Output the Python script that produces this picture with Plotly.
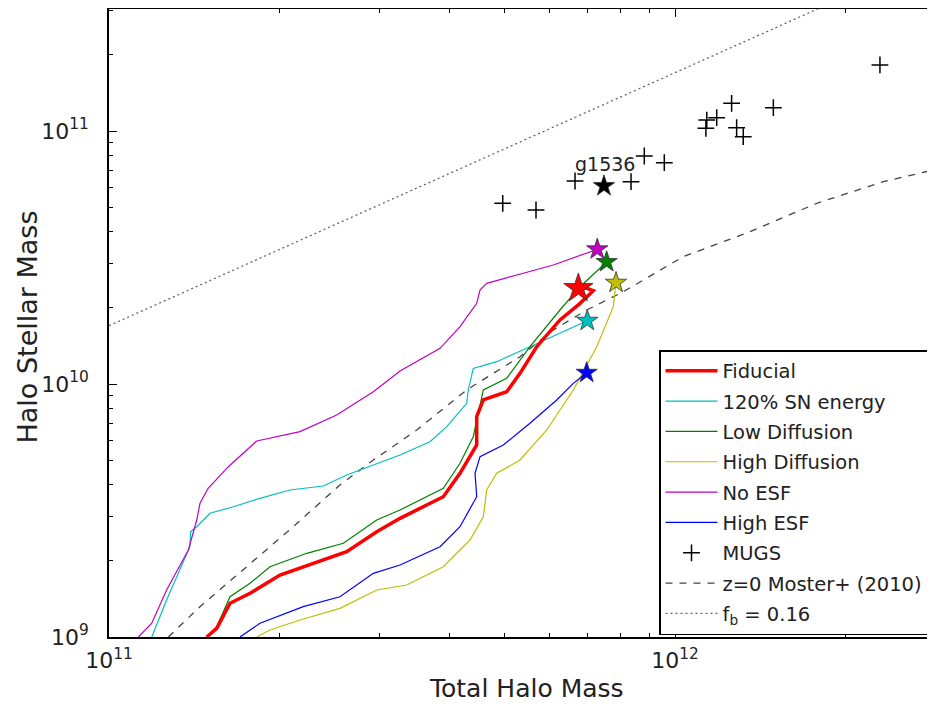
import plotly.graph_objects as go
import numpy as np

# units: halo mass in 1e11 Msun, stellar mass in 1e9 Msun
XU = 1e11
YU = 1e9

fid_x = [1.488,1.550,1.636,1.775,2.005,2.296,2.630,2.972,3.267,3.896,4.170,4.463,4.463,4.585,5.043,5.323,5.697,6.263,6.796,7.171,6.982,6.749]
fid_y = [1.0,1.082,1.359,1.488,1.758,1.956,2.174,2.608,2.945,3.585,4.436,5.741,7.428,8.648,9.32,11.02,14.04,17.91,20.84,23.38,23.89,23.89]

sn_x = [1.190,1.264,1.390,1.394,1.429,1.508,1.658,1.848,2.088,2.391,2.630,2.972,3.267,3.691,3.951,4.285,4.313,4.401,4.842,5.543,6.263,6.887,6.998]
sn_y = [1.0,1.400,2.275,2.608,2.729,3.083,3.273,3.533,3.811,3.953,4.369,4.860,5.242,5.915,6.781,8.391,9.47,11.53,12.25,14.04,15.86,17.38,17.79]

lowd_x = [1.488,1.550,1.636,1.775,1.925,2.236,2.594,2.972,3.267,3.896,4.170,4.401,4.585,5.043,5.543,6.263,6.796,7.573]
lowd_y = [1.0,1.098,1.443,1.631,1.896,2.142,2.346,2.901,3.177,3.871,4.860,6.19,9.47,10.53,14.04,19.61,24.24,30.36]

highd_x = [1.824,1.925,2.175,2.559,2.972,3.357,3.896,4.343,4.585,4.648,4.842,5.323,5.934,6.612,7.273,7.780,7.867]
highd_y = [1.0,1.066,1.167,1.298,1.534,1.605,1.896,2.417,2.989,3.811,4.436,5.008,6.58,9.47,14.04,20.21,25.14]

noesf_x = [1.127,1.190,1.264,1.381,1.429,1.448,1.497,1.625,1.824,1.978,2.175,2.525,2.931,3.267,3.845,4.170,4.463,4.524,4.648,5.395,6.095,7.171,7.289]
noesf_y = [1.0,1.133,1.534,2.207,2.90,3.377,3.871,4.711,5.953,6.19,6.48,7.54,9.32,11.25,13.84,16.85,20.84,23.52,25.00,27.39,29.54,33.64,34.07]

hiesf_x = [1.704,1.848,2.204,2.559,2.931,3.267,3.845,4.170,4.463,4.433,4.524,4.973,5.543,6.180,6.612,6.982]
hiesf_y = [1.0,1.133,1.318,1.443,1.785,1.926,2.275,2.729,3.585,4.436,5.160,5.741,6.993,8.648,10.06,11.08]

moster_x = [1.273,1.448,1.751,2.116,2.559,2.931,3.267,3.497,4.285,5.323,6.095,6.982,8.103,10.34,13.57,17.80,23.34,28.60]
moster_y = [1.0,1.318,1.896,2.729,3.989,5.008,5.915,6.58,9.47,12.82,16.35,19.61,23.16,31.86,39.99,51.79,63.04,70.13]

fb_x = [1.0, 30.0]
fb_y = [17.0, 510.0]

mugs_x = [4.962,5.681,6.658,8.362,8.826,9.574,11.38,11.34,11.85,12.59,12.85,13.20,14.92,23.02]
mugs_y = [51.79,48.72,63.45,63.04,79.65,74.93,110.5,102.5,112.9,128.7,103.0,94.96,123.6,182.4]

g1536_x = [7.49]
g1536_y = [60.6]
g1536_label = "g1536"

names = ["Fiducial", "120% SN energy", "Low Diffusion", "High Diffusion", "No ESF", "High ESF"]
colors = ["#ff0000", "#00bfbf", "#008000", "#bfbf00", "#bf00bf", "#0000ff"]
series_x = [fid_x, sn_x, lowd_x, highd_x, noesf_x, hiesf_x]
series_y = [fid_y, sn_y, lowd_y, highd_y, noesf_y, hiesf_y]
widths = [3.5, 1.2, 1.2, 1.2, 1.2, 1.2]

star_x = [6.749, 6.998, 7.573, 7.867, 7.289, 6.982]
star_y = [23.89, 17.79, 30.36, 25.14, 34.07, 11.08]
star_sizes = [22, 16, 16, 16, 16, 16]

FONT = "DejaVu Sans"
TXT = "#222222"
fig = go.Figure()

# reference lines
fig.add_trace(go.Scatter(x=np.array(fb_x) * XU, y=np.array(fb_y) * YU, mode="lines",
                         line=dict(color="#666666", width=1.3, dash="2px,3px"),
                         name="f<sub>b</sub> = 0.16", legendrank=9, legendgroup="g9"))
fig.add_trace(go.Scatter(x=np.array(moster_x) * XU, y=np.array(moster_y) * YU, mode="lines",
                         line=dict(color="#444444", width=1.3, dash="7px,7px"),
                         name="z=0 Moster+ (2010)", legendrank=8, legendgroup="g8"))

order = [1, 2, 3, 4, 5, 0]
for i in order:
    fig.add_trace(go.Scatter(x=np.array(series_x[i]) * XU, y=np.array(series_y[i]) * YU,
                             mode="lines", line=dict(color=colors[i], width=widths[i]),
                             name=names[i], legendrank=i + 1, legendgroup="g%d" % i))

for i in order:
    fig.add_trace(go.Scatter(x=[star_x[i] * XU], y=[star_y[i] * YU], mode="markers",
                             marker=dict(symbol="star", size=star_sizes[i], color=colors[i],
                                         line=dict(color="#333333", width=0.8)),
                             showlegend=False))

fig.add_trace(go.Scatter(x=np.array(mugs_x) * XU, y=np.array(mugs_y) * YU, mode="markers",
                         marker=dict(symbol="cross-thin", size=12, line=dict(color="black", width=1.5)),
                         name="MUGS", legendrank=7, legendgroup="g7"))
fig.add_trace(go.Scatter(x=np.array(g1536_x) * XU, y=np.array(g1536_y) * YU, mode="markers",
                         marker=dict(symbol="star", size=16, color="black",
                                     line=dict(color="#333333", width=0.8)),
                         showlegend=False))

fig.add_annotation(x=np.log10(g1536_x[0] * XU), y=np.log10(g1536_y[0] * YU), text=g1536_label,
                   showarrow=False, yshift=22, xshift=1,
                   font=dict(family=FONT, size=19, color=TXT))

W, H = 927, 696
ML, MT, MB = 101, 1, 67
PW, PH = W - ML, H - MT - MB
xr = [11.0, 11.0 + PW / 566]
yr = [9.0, 9.0 + PH / 253]

# axis titles
fig.add_annotation(xref="paper", yref="paper", x=(518.5 - ML) / PW, y=0, yshift=-51,
                   text="Total Halo Mass", showarrow=False, yanchor="middle", xanchor="center",
                   font=dict(family=FONT, size=25, color=TXT))
fig.add_annotation(xref="paper", yref="paper", x=0, y=(H - MB - 319.5) / PH, xshift=-82,
                   text="Halo Stellar Mass", showarrow=False, textangle=-90,
                   xanchor="center", yanchor="middle",
                   font=dict(family=FONT, size=27, color=TXT))

fig.update_xaxes(type="log", range=xr, showgrid=False, zeroline=False,
                 showline=True, linecolor="black", linewidth=1.5, mirror="ticks",
                 ticks="inside", ticklen=8, tickwidth=1.3, tickcolor="black",
                 tickvals=[1e11, 1e12], ticktext=["10<sup>11</sup>", "10<sup>12</sup>"],
                 ticklabelstandoff=3,
                 tickfont=dict(family=FONT, size=22, color=TXT),
                 minor=dict(ticks="inside", ticklen=4, tickwidth=1, tickcolor="black", dtick="D1", showgrid=False))
fig.update_yaxes(type="log", range=yr, showgrid=False, zeroline=False,
                 showline=True, linecolor="black", linewidth=1.5, mirror=False,
                 ticks="inside", ticklen=8, tickwidth=1.3, tickcolor="black",
                 tickvals=[1e9, 1e10, 1e11], ticktext=["10<sup>9</sup>", "10<sup>10</sup>", "10<sup>11</sup>"],
                 ticklabelstandoff=14,
                 tickfont=dict(family=FONT, size=22, color=TXT),
                 minor=dict(ticks="inside", ticklen=4, tickwidth=1, tickcolor="black", dtick="D1", showgrid=False))

fig.update_layout(
    width=W, height=H,
    margin=dict(l=ML, r=0, t=MT, b=MB, pad=0, autoexpand=False),
    paper_bgcolor="white", plot_bgcolor="white",
    font=dict(family=FONT, color=TXT),
    legend=dict(x=(651 - ML) / PW, y=(H - MB - 342) / PH, xanchor="left", yanchor="top",
                bgcolor="white", bordercolor="black", borderwidth=1.5,
                font=dict(family=FONT, size=19.5, color=TXT),
                tracegroupgap=2, traceorder="grouped", itemwidth=52),
)

fig.write_html("out.html")
